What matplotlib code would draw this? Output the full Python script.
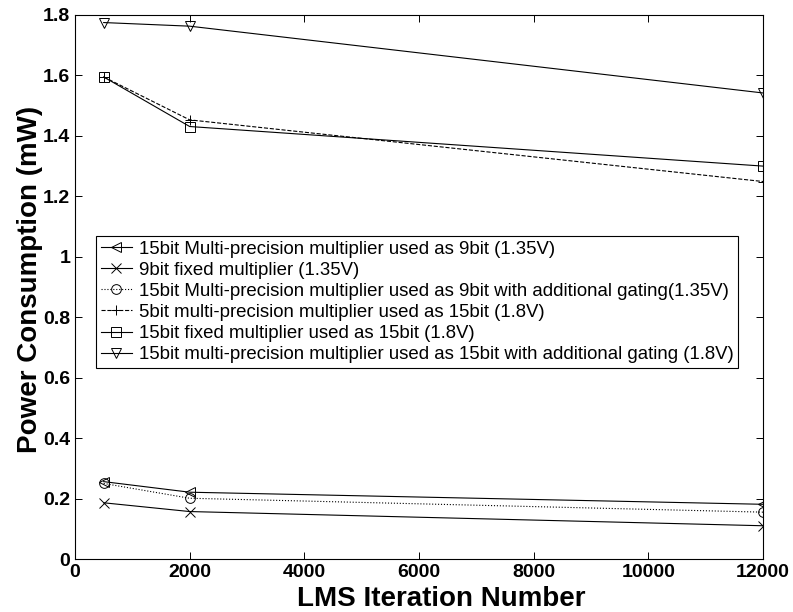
import matplotlib
matplotlib.use('Agg')
import matplotlib.pyplot as plt
from matplotlib.ticker import FormatStrFormatter

# LMS iteration numbers
iterations = [500, 2000, 12000]

# power consumption (mW) per configuration
mp15_as9 = [0.256, 0.221, 0.181]
fixed9 = [0.186, 0.157, 0.110]
mp15_as9_gating = [0.250, 0.201, 0.155]
mp5_as15 = [1.595, 1.453, 1.249]
fixed15_as15 = [1.595, 1.431, 1.300]
mp15_as15_gating = [1.775, 1.763, 1.542]

labels = ['15bit Multi-precision multiplier used as 9bit (1.35V)',
          '9bit fixed multiplier (1.35V)',
          '15bit Multi-precision multiplier used as 9bit with additional gating(1.35V)',
          '5bit multi-precision multiplier used as 15bit (1.8V)',
          '15bit fixed multiplier used as 15bit (1.8V)',
          '15bit multi-precision multiplier used as 15bit with additional gating (1.8V)']

plt.rcParams['font.family'] = ['Liberation Sans', 'DejaVu Sans']

fig = plt.figure(figsize=(7.93, 6.12), dpi=100)
ax = fig.add_axes([0.0946, 0.0866, 0.8676, 0.8889])

series = [mp15_as9, fixed9, mp15_as9_gating, mp5_as15, fixed15_as15, mp15_as15_gating]
styles = [['<', '-'], ['x', '-'], ['o', ':'], ['+', '--'], ['s', '-'], ['v', '-']]
for i in range(len(series)):
    ax.plot(iterations, series[i], color='black', linestyle=styles[i][1], linewidth=0.8,
            marker=styles[i][0], markersize=7, markerfacecolor='none',
            markeredgewidth=0.7, label=labels[i])

ax.set_xlim(0, 12000)
ax.set_ylim(0, 1.8)
ax.set_xticks([0, 2000, 4000, 6000, 8000, 10000, 12000])
ax.set_yticks([0, 0.2, 0.4, 0.6, 0.8, 1.0, 1.2, 1.4, 1.6, 1.8])
ax.yaxis.set_major_formatter(FormatStrFormatter('%g'))
ax.tick_params(direction='in', top=True, right=True, length=5, width=0.7, labelsize=14)
for lab in ax.get_xticklabels() + ax.get_yticklabels():
    lab.set_fontweight('bold')
for sp in ax.spines.values():
    sp.set_linewidth(0.8)

ax.set_xlabel('LMS Iteration Number', fontsize=20, fontweight='bold')
ax.set_ylabel('Power Consumption (mW)', fontsize=20, fontweight='bold')
ax.xaxis.set_label_coords(0.532, -0.049)
ax.yaxis.set_label_coords(-0.046, 0.513)

leg = ax.legend(loc='upper left', bbox_to_anchor=(0.0305, 0.594), fontsize=13.4,
                handlelength=1.7, handletextpad=0.35, labelspacing=0.22,
                borderpad=0.25, borderaxespad=0, fancybox=False, frameon=True,
                framealpha=1)
leg.get_frame().set_edgecolor('black')
leg.get_frame().set_linewidth(0.8)

plt.savefig('out.png', dpi=100)
